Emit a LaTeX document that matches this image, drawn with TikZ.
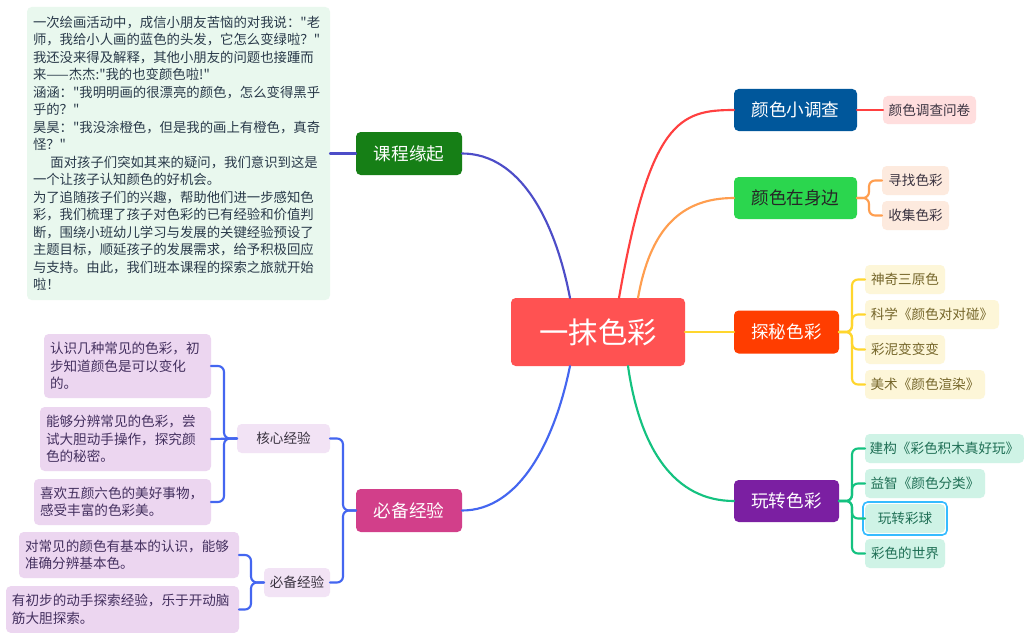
\documentclass[tikz,border=0pt]{standalone}
\usepackage{fontspec}
\newfontfamily\cjkplain{Noto Sans CJK SC}
\setmainfont{Noto Sans CJK SC}
\usetikzlibrary{calc}
\definecolor{cRoot}{HTML}{FF5252}
\definecolor{cA}{HTML}{00579B}
\definecolor{cB}{HTML}{2BD64E}
\definecolor{cC}{HTML}{FF3D00}
\definecolor{cD}{HTML}{7B1FA2}
\definecolor{cE}{HTML}{167F16}
\definecolor{cF}{HTML}{D23F8A}
\definecolor{lRed}{HTML}{FF4040}
\definecolor{lOrange}{HTML}{FF9E4F}
\definecolor{lYellow}{HTML}{FFD62E}
\definecolor{lGreen}{HTML}{14C280}
\definecolor{lViolet}{HTML}{4D4DC8}
\definecolor{lBlue}{HTML}{4466F0}
\definecolor{fRed}{HTML}{FFDEDE}
\definecolor{fOrange}{HTML}{FDEADE}
\definecolor{fYellow}{HTML}{FDF6D8}
\definecolor{fGreen}{HTML}{CFF3E6}
\definecolor{fMint}{HTML}{E9F8EE}
\definecolor{fPurple}{HTML}{ECD6F0}
\definecolor{fLilac}{HTML}{F2E3F5}
\definecolor{tDark}{HTML}{3A3340}
\definecolor{tOlive}{HTML}{75662A}
\definecolor{tTeal}{HTML}{1F6F55}
\definecolor{tPurple}{HTML}{44305F}
\definecolor{tMint}{HTML}{2A3A4A}
\definecolor{cSel}{HTML}{35BBFF}
\tikzset{
  x=0.75pt,y=-0.75pt,
  sz/.style 2 args={minimum width=#1*0.75pt,minimum height=#2*0.75pt},
  boxbase/.style={rectangle,rounded corners=3.5pt,inner sep=0pt,outer sep=0pt},
  rootbox/.style={boxbase,fill=cRoot,text=white,font=\fontsize{22}{26}\selectfont},
  mainbox/.style={boxbase,text=white,font=\fontsize{13.2}{16}\selectfont},
  subbox/.style={boxbase,font=\fontsize{10.2}{13.1}\selectfont,text=tDark},
  para/.style={subbox,align=left,text width=#1*0.75pt},
  storybox/.style={boxbase,align=left,text width=291*0.75pt,inner xsep=4.5pt,fill=fMint,text=tMint,
    minimum height=293*0.75pt,font=\cjkplain\fontsize{10.03}{13.12}\selectfont},
  lnk/.style={line width=1.6pt,line cap=round},
  brk/.style={lnk,rounded corners=4.5pt,draw=#1},
}
\begin{document}
\begin{tikzpicture}
\useasboundingbox[fill=white] (0,0) rectangle (1024,642);
% centre
\node[rootbox,sz={174}{68}] (root) at (598,332) {一抹色彩};
\coordinate (rV) at (570,298);
\coordinate (rR) at (619,298);
\coordinate (rO) at (638,298);
\coordinate (rB) at (570,366);
\coordinate (rG) at (628,366);
% main branches
\node[mainbox,fill=cA,sz={123}{42}] (m1) at (795.5,110) {颜色小调查};
\node[mainbox,fill=cB,text=black!85,sz={123}{42}] (m2) at (795.5,198) {颜色在身边};
\node[mainbox,fill=cC,sz={105}{43}] (m3) at (786.5,332) {探秘色彩};
\node[mainbox,fill=cD,sz={105}{42}] (m4) at (786.5,501) {玩转色彩};
\node[mainbox,fill=cE,sz={106}{43}] (m5) at (409,153.5) {课程缘起};
\node[mainbox,fill=cF,sz={106}{43}] (m6) at (409,510.5) {必备经验};
% right leaves
\node[subbox,fill=fRed,sz={93}{28}] (a1) at (929.5,110) {颜色调查问卷};
\node[subbox,fill=fOrange,sz={67}{29}] (b1) at (915.5,180.5) {寻找色彩};
\node[subbox,fill=fOrange,sz={67}{29}] (b2) at (915.5,215.5) {收集色彩};
\node[subbox,fill=fYellow,text=tOlive,sz={80}{29}] (c1) at (905,279.5) {神奇三原色};
\node[subbox,fill=fYellow,text=tOlive,sz={134}{29}] (c2) at (932,314.5) {科学《颜色对对碰》};
\node[subbox,fill=fYellow,text=tOlive,sz={80}{29}] (c3) at (905,349.5) {彩泥变变变};
\node[subbox,fill=fYellow,text=tOlive,sz={120}{29}] (c4) at (925,384.5) {美术《颜色渲染》};
\node[subbox,fill=fGreen,text=tTeal,sz={159}{29}] (d1) at (944.5,448.5) {建构《彩色积木真好玩》};
\node[subbox,fill=fGreen,text=tTeal,sz={120}{29}] (d2) at (925,483.5) {益智《颜色分类》};
\node[subbox,fill=fGreen,text=tTeal,sz={80}{29}] (d3) at (905,518.5) {玩转彩球};
\node[subbox,fill=fGreen,text=tTeal,sz={80}{29}] (d4) at (905,553.5) {彩色的世界};
\draw[cSel,line width=1.2pt,rounded corners=3.5pt] ($(d3.north west)+(-2,-2)$) rectangle ($(d3.south east)+(2,2)$);
% story box
\node[storybox,anchor=north west] (story) at (27,7) {%
一次绘画活动中，成信小朋友苦恼的对我说："老\\
师，我给小人画的蓝色的头发，它怎么变绿啦？"\\
我还没来得及解释，其他小朋友的问题也接踵而\\
来——杰杰:"我的也变颜色啦!"\\
涵涵："我明明画的很漂亮的颜色，怎么变得黑乎\\
乎的？"\\
昊昊："我没涂橙色，但是我的画上有橙色，真奇\\
怪？"\\
\hspace*{1.3em}面对孩子们突如其来的疑问，我们意识到这是\\
一个让孩子认知颜色的好机会。\\
为了追随孩子们的兴趣，帮助他们进一步感知色\\
彩，我们梳理了孩子对色彩的已有经验和价值判\\
断，围绕小班幼儿学习与发展的关键经验预设了\\
主题目标，顺延孩子的发展需求，给予积极回应\\
与支持。由此，我们班本课程的探索之旅就开始\\
啦！};
% left side
\node[subbox,fill=fLilac,sz={93}{29}] (h1) at (283.5,438.5) {核心经验};
\node[subbox,fill=fLilac,sz={66}{29}] (h2) at (297,582.5) {必备经验};
\node[para=155,fill=fPurple,text=tPurple,inner xsep=4.5pt,minimum height=48pt] (k1) at (127.5,366) {认识几种常见的色彩，初\\步知道颜色是可以变化\\的。};
\node[para=159,fill=fPurple,text=tPurple,inner xsep=4.5pt,minimum height=48pt] (k2) at (125.5,439) {能够分辨常见的色彩，尝\\试大胆动手操作，探究颜\\色的秘密。};
\node[para=165,fill=fPurple,text=tPurple,inner xsep=4.5pt,minimum height=34.5pt] (k3) at (122.5,502) {喜欢五颜六色的美好事物，\\感受丰富的色彩美。};
\node[para=208,fill=fPurple,text=tPurple,inner xsep=4.5pt,minimum height=34.5pt] (k4) at (129,555) {对常见的颜色有基本的认识，能够\\准确分辨基本色。};
\node[para=221,fill=fPurple,text=tPurple,inner xsep=4.5pt,minimum height=35pt] (k5) at (122.5,609.5) {有初步的动手探索经验，乐于开动脑\\筋大胆探索。};
% curves from centre
\draw[lnk,lRed] (rR) .. controls (650,120) and (680,110) .. (m1.west);
\draw[lnk,lOrange] (rO) .. controls (650,230) and (680,198) .. (m2.west);
\draw[lnk,lYellow] (root.east) -- (m3.west);
\draw[lnk,lGreen] (rG) .. controls (640,450) and (675,501) .. (m4.west);
\draw[lnk,lViolet] (m5.east) .. controls (520,153.5) and (555,220) .. (rV);
\draw[lnk,lBlue] (m6.east) .. controls (520,510.5) and (555,440) .. (rB);
\draw[lnk,lViolet] (story.east |- m5.west) -- (m5.west);
% brackets
\draw[lnk,lRed] (m1.east) -- (a1.west);
\draw[brk=lOrange] (m2.east) -- +(12,0) |- (b1.west);
\draw[brk=lOrange] (m2.east) -- +(12,0) |- (b2.west);
\foreach \n in {c1,c2,c3,c4}{\draw[brk=lYellow] (m3.east) -- +(13,0) |- (\n.west);}
\foreach \n in {d1,d2,d3,d4}{\draw[brk=lGreen] (m4.east) -- +(13,0) |- (\n.west);}
\draw[brk=lBlue] (m6.west) -- +(-13,0) |- (h1.east);
\draw[brk=lBlue] (m6.west) -- +(-13,0) |- (h2.east);
\foreach \n in {k1,k3}{\draw[brk=lBlue] (h1.west) -- +(-13,0) |- (\n.east);}
\draw[lnk,lBlue] (h1.west) -- (k2.east);
\foreach \n in {k4,k5}{\draw[brk=lBlue] (h2.west) -- +(-13,0) |- (\n.east);}
\end{tikzpicture}
\end{document}
